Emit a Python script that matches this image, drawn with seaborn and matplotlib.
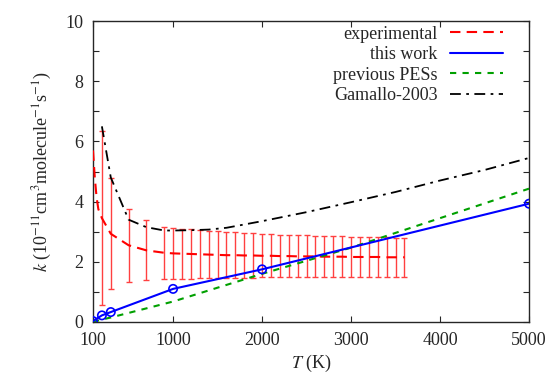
import numpy as np
import matplotlib
matplotlib.use("Agg")
import matplotlib.pyplot as plt
import seaborn as sns

# ---- data ----
exp_T = [100, 120, 140, 160, 200, 300, 500, 700, 900, 1000, 1100, 1200, 1300, 1400, 1500,
         1600, 1700, 1800, 1900, 2000, 2100, 2200, 2300, 2400, 2500, 2600, 2700, 2800,
         2900, 3000, 3100, 3200, 3300, 3400, 3500, 3600]
exp_k = [5.70, 4.80, 4.15, 3.75, 3.45, 2.93, 2.55, 2.38, 2.30, 2.28, 2.27, 2.26, 2.25, 2.24, 2.23,
         2.22, 2.22, 2.21, 2.21, 2.20, 2.20, 2.19, 2.19, 2.18, 2.18, 2.18, 2.17, 2.17,
         2.17, 2.16, 2.16, 2.16, 2.16, 2.15, 2.15, 2.15]
exp_err = [0, 0, 0, 0, 2.90, 1.84, 1.22, 1.00, 0.87, 0.85, 0.83, 0.82, 0.80, 0.79, 0.78,
           0.77, 0.76, 0.75, 0.74, 0.72, 0.72, 0.71, 0.71, 0.70, 0.70, 0.69, 0.69, 0.68,
           0.68, 0.67, 0.67, 0.66, 0.66, 0.66, 0.65, 0.65]

this_T = [100, 200, 300, 1000, 2000, 5000]
this_k = [0.03, 0.22, 0.33, 1.10, 1.75, 3.93]

prev_T = [100, 200, 300, 1000, 2000, 3000, 5000]
prev_k = [0.00, 0.08, 0.15, 0.68, 1.60, 2.47, 4.43]

gam_T = [200, 300, 500, 700, 900, 1000, 1200, 1400, 1600, 2000, 2500, 3000, 3500, 4000, 4500, 5000]
gam_k = [6.50, 4.80, 3.40, 3.15, 3.04, 3.04, 3.05, 3.07, 3.13, 3.35, 3.65, 3.98, 4.32, 4.70, 5.05, 5.45]

x_ticks = [100, 1000, 2000, 3000, 4000, 5000]
y_ticks = [0, 1, 2, 3, 4, 5, 6, 7, 8, 9, 10]

# ---- style ----
sns.set_style("ticks")
plt.rcParams['font.family'] = ['Liberation Serif', 'DejaVu Serif']
plt.rcParams['mathtext.fontset'] = 'stix'
FS = 13

fig = plt.figure(figsize=(5.51, 3.83), dpi=100)
ax = fig.add_axes([93/551, 1-322/383, (529-93)/551, (322-21)/383])

# error bars (only where err > 0)
eT = [t for t, e in zip(exp_T, exp_err) if e > 0]
ek = [k for k, e in zip(exp_k, exp_err) if e > 0]
ee = [e for e in exp_err if e > 0]
eb = ax.errorbar(eT, ek, yerr=ee, fmt='none', ecolor=(1.0, 0.25, 0.25), elinewidth=1.0,
                 capsize=2.2, capthick=1.0, zorder=2)
for cap in eb[1]:
    cap.set_color('red')

sns.lineplot(x=exp_T, y=exp_k, ax=ax, color='red', lw=1.5, sort=False,
             label='experimental', zorder=3)
ax.lines[-1].set_dashes([5, 3])
sns.lineplot(x=this_T, y=this_k, ax=ax, color='blue', lw=1.5, sort=False,
             label='this work', zorder=4)
sns.scatterplot(x=this_T, y=this_k, ax=ax, s=36, facecolor='none', edgecolor='blue',
                linewidth=1.2, zorder=5)
sns.lineplot(x=prev_T, y=prev_k, ax=ax, color='#00a000', lw=1.5, sort=False,
             label='previous PESs', zorder=3)
ax.lines[-1].set_dashes([3, 3])
sns.lineplot(x=gam_T, y=gam_k, ax=ax, color='black', lw=1.3, sort=False,
             label='Gamallo-2003', zorder=3)
ax.lines[-1].set_dashes([6, 3, 1.5, 3])

ax.set_xlim(100, 5000)
ax.set_ylim(0, 10)
ax.set_xticks(x_ticks)
ax.set_xticklabels([str(t) for t in x_ticks])
ax.set_yticks(y_ticks)
ax.set_yticklabels([str(t) if t % 2 == 0 else '' for t in y_ticks])
ax.tick_params(direction='in', top=True, right=True, length=4, width=0.8, labelsize=FS, pad=7)
for s in ax.spines.values():
    s.set_linewidth(1.0)
    s.set_visible(True)

ax.set_xlabel(r'$T$ (K)', fontsize=FS, labelpad=3)
ax.set_ylabel(r'$k$ (10$^{-11}$cm$^{3}$molecule$^{-1}$s$^{-1}$)', fontsize=FS, labelpad=8)

leg = ax.legend(loc='upper right', bbox_to_anchor=(0.940, 0.985), frameon=False,
                markerfirst=False, handlelength=2.9, fontsize=FS, labelspacing=0.2,
                borderaxespad=0.0, handletextpad=0.7, borderpad=0.0)
for t in leg.get_texts():
    t.set_ha('right')
leg._legend_box.align = 'right'

fig.savefig('out.png', dpi=100)
